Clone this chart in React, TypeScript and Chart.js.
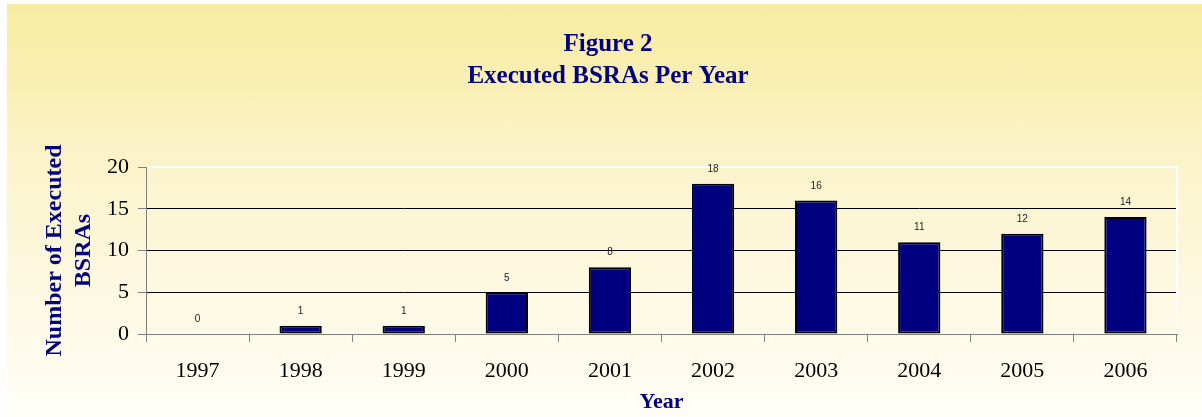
import React, { useEffect, useRef } from "react";
import { Chart, registerables } from "chart.js";

Chart.register(...registerables);

const years = ["1997", "1998", "1999", "2000", "2001", "2002", "2003", "2004", "2005", "2006"];
const executed = [0, 1, 1, 5, 8, 18, 16, 11, 12, 14];
const titleLines = ["Figure 2", "Executed BSRAs Per Year"];
const yTitleLines = ["Number of Executed", "BSRAs"];
const xTitle = "Year";

const NAVY = "#000080";

const labelPlugin = {
  id: "valueLabels",
  afterDatasetsDraw(chart: any) {
    const ctx = chart.ctx;
    const meta = chart.getDatasetMeta(0);
    ctx.save();
    ctx.font = '10px "Liberation Sans", Arial, sans-serif';
    ctx.fillStyle = "#222";
    ctx.textAlign = "center";
    ctx.textBaseline = "middle";
    meta.data.forEach((bar: any, i: number) => {
      ctx.fillText(String(executed[i]), bar.x, bar.y - 14.5);
    });
    ctx.restore();
  },
};

const borderPlugin = {
  id: "whiteBorder",
  beforeDatasetsDraw(chart: any) {
    const { ctx, chartArea } = chart;
    ctx.save();
    ctx.strokeStyle = "#ffffff";
    ctx.lineWidth = 2;
    ctx.beginPath();
    ctx.moveTo(chartArea.left + 1, chartArea.top);
    ctx.lineTo(chartArea.right, chartArea.top);
    ctx.lineTo(chartArea.right, chartArea.bottom);
    ctx.stroke();
    ctx.restore();
  },
};

export default function App() {
  const ref = useRef<HTMLCanvasElement | null>(null);

  useEffect(() => {
    if (!ref.current) return;
    const chart = new Chart(ref.current, {
      type: "bar",
      data: {
        labels: years,
        datasets: [
          {
            data: executed,
            backgroundColor: NAVY,
            borderColor: "#000000",
            borderWidth: 2,
            borderSkipped: false,
            categoryPercentage: 1,
            barPercentage: 0.41,
          },
        ],
      },
      options: {
        responsive: false,
        animation: false,
        events: [],
        layout: { padding: { left: 32, right: 25, top: 0, bottom: 0 } },
        plugins: {
          legend: { display: false },
          tooltip: { enabled: false },
          title: {
            display: true,
            text: titleLines,
            color: NAVY,
            font: { family: '"Liberation Serif", serif', size: 25, weight: "bold", lineHeight: 1.28 },
            padding: { top: 24.5, bottom: 74.5 },
          },
        },
        scales: {
          x: {
            offset: true,
            grid: {
              display: true,
              offset: true,
              drawOnChartArea: false,
              drawTicks: true,
              tickLength: 8,
              tickColor: "#808080",
              color: "#808080",
            },
            border: { display: true, color: "#808080", width: 1 },
            ticks: {
              color: "#000",
              padding: 16,
              font: { family: '"Liberation Serif", serif', size: 22 },
            },
            title: {
              display: true,
              text: xTitle,
              color: NAVY,
              font: { family: '"Liberation Serif", serif', size: 22, weight: "bold", lineHeight: 1.2 },
              padding: { top: 0, bottom: 1 },
            },
            afterFit(scale: any) {
              scale.height = 83;
            },
          },
          y: {
            min: 0,
            max: 20,
            ticks: {
              stepSize: 5,
              color: "#000",
              padding: 9,
              font: { family: '"Liberation Serif", serif', size: 22 },
            },
            grid: {
              drawTicks: true,
              tickLength: 8,
              tickColor: "#808080",
              color: (c: any) => {
                const v = c.tick ? c.tick.value : null;
                if (v === 0) return "rgba(0,0,0,0)";
                if (v === 20) return "rgba(0,0,0,0)";
                return "#000000";
              },
              lineWidth: 1,
            },
            border: { display: true, color: "#808080", width: 1 },
            title: {
              display: true,
              text: yTitleLines,
              color: NAVY,
              font: { family: '"Liberation Serif", serif', size: 24, weight: "bold", lineHeight: 1.21 },
              padding: { top: 1.5, bottom: 0 },
            },
            afterFit(scale: any) {
              scale.width = 107;
            },
          },
        },
      },
      plugins: [borderPlugin, labelPlugin],
    } as any);
    return () => chart.destroy();
  }, []);

  return (
    <div
      style={{
        position: "absolute",
        left: 0,
        top: 0,
        width: 1202,
        height: 417,
        background: "#ffffff",
        overflow: "hidden",
      }}
    >
      <canvas
        ref={ref}
        width={1195}
        height={413}
        style={{
          position: "absolute",
          left: 7,
          top: 4,
          width: 1195,
          height: 413,
          background: "linear-gradient(to bottom, #F8EBA0 0%, #FBF4CC 40%, #FFFDF7 100%)",
        }}
      />
    </div>
  );
}
